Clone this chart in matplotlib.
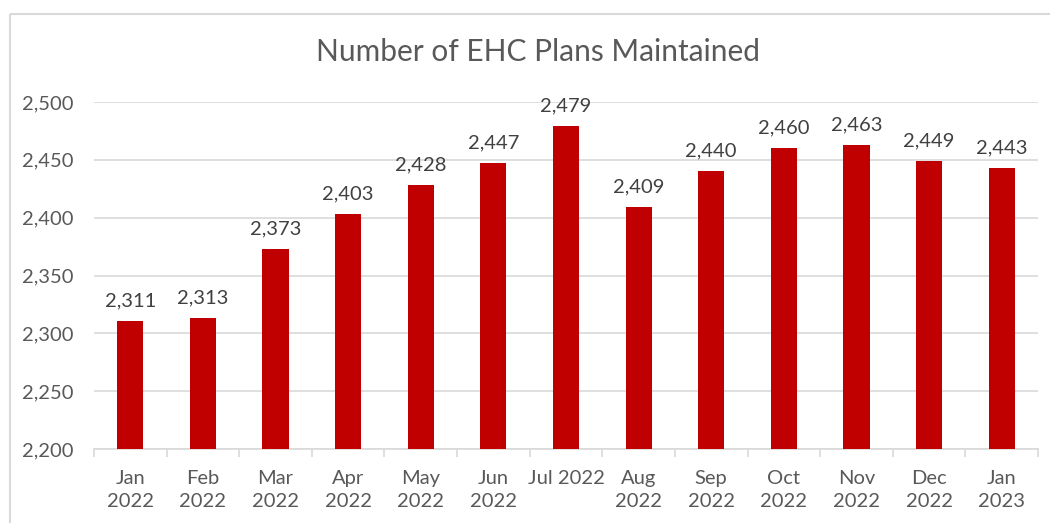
import matplotlib.pyplot as plt
from matplotlib.patches import Rectangle
from matplotlib.ticker import FuncFormatter, FixedLocator
import numpy as np

months = ["Jan\n2022", "Feb\n2022", "Mar\n2022", "Apr\n2022", "May\n2022", "Jun\n2022",
          "Jul 2022", "Aug\n2022", "Sep\n2022", "Oct\n2022", "Nov\n2022", "Dec\n2022", "Jan\n2023"]
plans = [2311, 2313, 2373, 2403, 2428, 2447, 2479, 2409, 2440, 2460, 2463, 2449, 2443]

plt.rcParams['font.family'] = ['Lato', 'DejaVu Sans']

W, H = 1050, 523
fig = plt.figure(figsize=(W / 100, H / 100), dpi=100)

# chart frame (only left and top edges fall inside the image)
fig.patches.append(Rectangle((10 / W, 1 - 14 / H), 2, -2, transform=fig.transFigure,
                             fill=False, edgecolor='#d9d9d9', linewidth=1.5))

left, right, top, bottom = 94, 1038, 102, 449
ax = fig.add_axes([left / W, 1 - bottom / H, (right - left) / W, (bottom - top) / H])

x = np.arange(len(months))
ax.bar(x, plans, width=0.36, color='#c00000', zorder=3)
for xi, v in zip(x, plans):
    ax.text(xi, v + 10, f"{v:,}", ha='center', va='bottom', fontsize=14.5, color='#404040', zorder=4)

ax.set_xlim(-0.5, len(months) - 0.5)
ax.set_ylim(2200, 2500)
ax.set_yticks(np.arange(2200, 2501, 50))
ax.yaxis.set_major_formatter(FuncFormatter(lambda v, p: f"{v:,.0f}"))
ax.grid(axis='y', color='#d9d9d9', linewidth=1.2, zorder=0)

ax.set_xticks(x)
ax.set_xticklabels(months, linespacing=1.45)
ax.xaxis.set_minor_locator(FixedLocator(np.arange(-0.5, len(months), 1)))
ax.tick_params(axis='x', which='major', length=0, pad=15, labelsize=14.5, labelcolor='#595959')
ax.tick_params(axis='x', which='minor', length=6, color='#d9d9d9', width=1.2)
ax.tick_params(axis='y', length=0, pad=15, labelsize=14.5, labelcolor='#595959')

for s in ['top', 'right', 'left']:
    ax.spines[s].set_visible(False)
ax.spines['bottom'].set_color('#d9d9d9')
ax.spines['bottom'].set_linewidth(1.2)

fig.text(538 / W, 1 - 52 / H, "Number of EHC Plans Maintained", ha='center', va='center',
         fontsize=21.5, color='#595959')

fig.savefig('out.png', dpi=100)
